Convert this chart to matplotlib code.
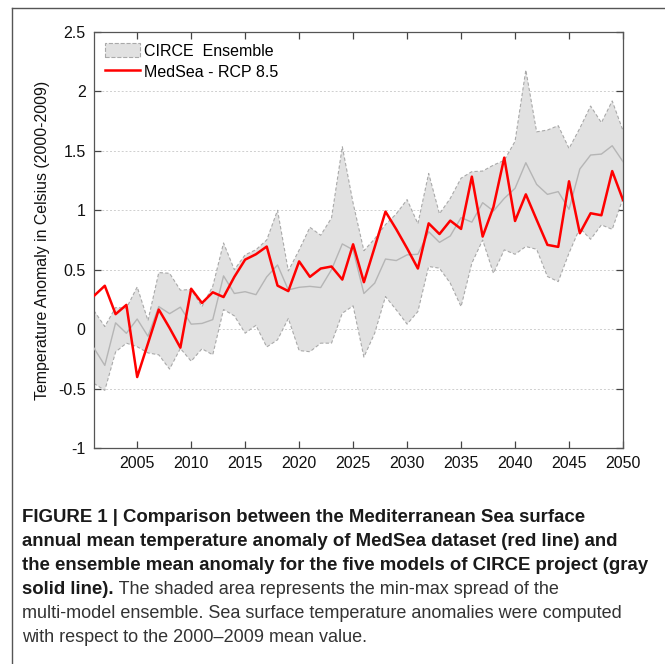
import numpy as np
from matplotlib import pyplot as plt
from matplotlib.patches import Patch
from matplotlib.lines import Line2D

years = list(range(2001, 2051))

medsea = [0.28, 0.365, 0.126, 0.204, -0.403, -0.12, 0.165, 0.01, -0.156, 0.34,
          0.22, 0.31, 0.27, 0.44, 0.585, 0.63, 0.695, 0.366, 0.32, 0.57,
          0.44, 0.51, 0.527, 0.417, 0.714, 0.395, 0.69, 0.989, 0.84, 0.68,
          0.51, 0.89, 0.80, 0.913, 0.843, 1.283, 0.779, 1.028, 1.443, 0.91,
          1.134, 0.92, 0.709, 0.692, 1.244, 0.807, 0.975, 0.958, 1.33, 1.087]

circe_mean = [-0.16, -0.305, 0.053, -0.035, 0.085, -0.06, 0.19, 0.13, 0.185, 0.042,
              0.048, 0.08, 0.448, 0.30, 0.315, 0.29, 0.44, 0.54, 0.33, 0.352,
              0.36, 0.35, 0.50, 0.717, 0.667, 0.30, 0.387, 0.59, 0.577, 0.625,
              0.63, 0.82, 0.73, 0.784, 0.938, 0.90, 1.064, 0.994, 1.10, 1.185,
              1.40, 1.218, 1.134, 1.157, 1.008, 1.347, 1.465, 1.473, 1.543, 1.409]

circe_max = [0.155, 0.022, 0.182, 0.176, 0.355, 0.072, 0.476, 0.47, 0.328, 0.334,
             0.19, 0.36, 0.725, 0.50, 0.625, 0.668, 0.75, 1.0, 0.49, 0.665,
             0.857, 0.79, 0.935, 1.535, 1.06, 0.66, 0.76, 0.88, 0.97, 1.09,
             0.887, 1.31, 0.97, 1.1, 1.27, 1.325, 1.33, 1.38, 1.42, 1.58,
             2.18, 1.66, 1.675, 1.712, 1.52, 1.69, 1.877, 1.737, 1.92, 1.67]

circe_min = [-0.457, -0.515, -0.192, -0.118, -0.148, -0.2, -0.216, -0.336, -0.162, -0.27,
             -0.165, -0.216, 0.165, 0.112, -0.034, 0.032, -0.15, -0.09, 0.09, -0.18,
             -0.19, -0.118, -0.118, 0.134, 0.196, -0.235, -0.034, 0.274, 0.162, 0.042,
             0.148, 0.527, 0.513, 0.387, 0.19, 0.555, 0.75, 0.47, 0.667, 0.63,
             0.695, 0.672, 0.443, 0.40, 0.64, 0.85, 0.756, 0.877, 0.84, 1.10]

yticks = [-1, -0.5, 0, 0.5, 1, 1.5, 2, 2.5]
ytick_labels = ["-1", "-0.5", "0", "0.5", "1", "1.5", "2", "2.5"]
xticks = [2005, 2010, 2015, 2020, 2025, 2030, 2035, 2040, 2045, 2050]

caption_bold = [
    "FIGURE 1 | Comparison between the Mediterranean Sea surface",
    "annual mean temperature anomaly of MedSea dataset (red line) and",
    "the ensemble mean anomaly for the five models of CIRCE project (gray",
]
caption_mixed_bold = "solid line)."
caption_mixed_rest = " The shaded area represents the min-max spread of the"
caption_normal = [
    "multi-model ensemble. Sea surface temperature anomalies were computed",
    "with respect to the 2000\u20132009 mean value.",
]

plt.rcParams["font.family"] = ["Liberation Sans", "DejaVu Sans"]

W, H = 665, 664
fig = plt.figure(figsize=(W / 100, H / 100), dpi=100)
ax = fig.add_axes([94 / W, 1 - 448 / H, (623 - 94) / W, (448 - 32) / H])

ax.fill_between(years, circe_min, circe_max, facecolor="#e1e1e1",
                edgecolor="none", zorder=1)
ax.plot(years, circe_max, color="#a9a9a9", lw=0.8, ls=(0, (3, 2)), zorder=2)
ax.plot(years, circe_min, color="#a9a9a9", lw=0.8, ls=(0, (3, 2)), zorder=2)
ax.plot(years, circe_mean, color="#b5b5b5", lw=1.0, zorder=3)
ax.plot(years, medsea, color="#ff0000", lw=1.8, zorder=4)

ax.set_xlim(2001, 2050)
ax.set_ylim(-1, 2.5)
ax.set_xticks(xticks)
ax.set_yticks(yticks)
ax.set_yticklabels(ytick_labels)
ax.yaxis.grid(True, color="#cfcfcf", ls=(0, (2, 2)), lw=0.7)
ax.set_axisbelow(True)
ax.tick_params(direction="in", top=True, right=True, length=5, width=0.9,
               colors="#444444", labelsize=11.5, labelcolor="#111111", pad=6)
for s in ax.spines.values():
    s.set_color("#555555")
    s.set_linewidth(0.9)
ax.set_ylabel("Temperature Anomaly in Celsius (2000-2009)", fontsize=11.4,
              color="#111111", labelpad=6)

handles = [
    Patch(facecolor="#e1e1e1", edgecolor="#a9a9a9", ls="--", lw=0.8),
    Line2D([], [], color="#ff0000", lw=1.8),
]
ax.legend(handles, ["CIRCE  Ensemble", "MedSea - RCP 8.5"], loc="upper left",
          frameon=False, fontsize=11.5, handlelength=2.2, handleheight=0.95,
          handletextpad=0.2, labelspacing=0.35, borderpad=0.2,
          borderaxespad=0.5)

# outer frame lines (top and left)
fig.add_artist(Line2D([12 / W, 1], [1 - 8 / H, 1 - 8 / H], color="#555555",
                      lw=1.0, transform=fig.transFigure))
fig.add_artist(Line2D([12 / W, 12 / W], [0, 1 - 8 / H], color="#555555",
                      lw=1.0, transform=fig.transFigure))

# caption
fs_bold = 13.4
fs_norm = 13.0
x0 = 22 / W
line_y = [517, 541, 565, 590, 614, 638]
for i, txt in enumerate(caption_bold):
    fig.text(x0, 1 - line_y[i] / H, txt, fontsize=fs_bold, fontweight="bold",
             color="#1a1a1a", va="center", ha="left")
t = fig.text(x0, 1 - line_y[3] / H, caption_mixed_bold, fontsize=fs_bold,
             fontweight="bold", color="#1a1a1a", va="center", ha="left")
fig.canvas.draw()
bb = t.get_window_extent()
fig.text(bb.x1 / W, 1 - line_y[3] / H, caption_mixed_rest, fontsize=fs_norm,
         color="#333333", va="center", ha="left")
for i, txt in enumerate(caption_normal):
    fig.text(x0, 1 - line_y[4 + i] / H, txt, fontsize=fs_norm, color="#333333",
             va="center", ha="left")

fig.savefig("out.png", dpi=100)
